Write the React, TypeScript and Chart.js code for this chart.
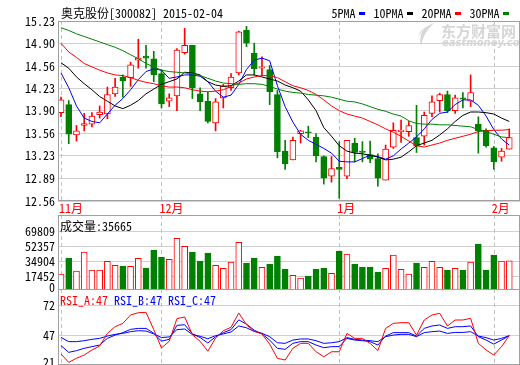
import { useEffect, useRef } from 'react';
import { Chart, registerables } from 'chart.js';

Chart.register(...registerables);

const FONT = '"Noto Sans Mono CJK SC", "Noto Sans Mono CJK JP", "DejaVu Sans Mono", monospace';
const RED = '#ff0000';
const GREEN = '#008000';
const BLUE = '#0000ff';
const BLACK = '#000000';
const GRID = '#d0d0d0';
const FRAME = '#a0a0a0';
const DASH = '#c0c0c0';
const W = 520;
const H = 365;
const X_MIN = -0.39;
const X_MAX = 59.39;

const title = '奥克股份[300082] 2015-02-04';
const monthIdx = [0, 13, 36, 56];
const monthLabels = ['11月', '12月', '1月', '2月'];

const opens = [13.87, 13.99, 13.54, 13.68, 13.70, 13.84, 13.85, 14.15, 14.40, 14.39, 14.65, 14.71, 14.67, 14.45, 14.04, 14.12, 14.76, 14.87, 14.15, 14.04, 13.72, 14.09, 14.24, 14.46, 15.09, 14.75, 14.53, 14.51, 14.14, 13.30, 13.17, 13.56, 13.58, 13.51, 13.22, 12.93, 13.06, 12.93, 13.42, 13.30, 13.25, 13.19, 12.87, 13.36, 13.59, 13.59, 13.50, 13.52, 13.86, 14.05, 14.14, 13.90, 14.09, 14.04, 13.70, 13.61, 13.35, 13.21, 13.33];
const highs = [14.10, 14.05, 13.68, 13.86, 13.87, 13.97, 14.25, 14.38, 14.43, 14.62, 14.96, 14.87, 14.78, 14.51, 14.15, 14.82, 15.12, 14.87, 14.24, 14.18, 14.08, 14.29, 14.45, 15.08, 15.15, 14.90, 14.70, 14.57, 14.20, 13.46, 13.51, 13.61, 13.67, 13.56, 13.23, 13.22, 13.44, 13.46, 13.49, 13.44, 13.45, 13.26, 13.39, 13.72, 13.76, 13.74, 13.98, 13.88, 14.12, 14.16, 14.19, 14.13, 14.17, 14.43, 13.81, 13.63, 13.37, 13.34, 13.63];
const lows = [13.81, 13.41, 13.45, 13.60, 13.66, 13.79, 13.78, 14.11, 14.10, 14.26, 14.53, 14.53, 14.33, 13.94, 13.96, 13.90, 14.74, 14.08, 13.90, 13.72, 13.60, 13.94, 14.20, 14.43, 14.85, 14.43, 14.42, 13.99, 13.20, 13.03, 13.17, 13.42, 13.50, 13.14, 12.81, 12.84, 12.60, 12.89, 13.14, 13.14, 13.13, 12.78, 12.87, 13.34, 13.43, 13.52, 13.28, 13.39, 13.81, 13.88, 13.87, 13.86, 13.94, 13.96, 13.27, 13.36, 13.03, 13.15, 13.33];
const closes = [14.06, 13.55, 13.60, 13.71, 13.82, 13.88, 14.14, 14.25, 14.34, 14.58, 14.68, 14.68, 14.43, 14.00, 14.09, 14.80, 14.87, 14.24, 14.03, 13.74, 14.03, 14.27, 14.40, 15.07, 14.90, 14.52, 14.55, 14.18, 13.29, 13.11, 13.46, 13.60, 13.57, 13.23, 12.90, 13.04, 13.03, 13.46, 13.28, 13.28, 13.18, 12.90, 13.33, 13.61, 13.61, 13.68, 13.38, 13.83, 14.03, 14.14, 13.90, 14.09, 14.07, 14.17, 13.60, 13.38, 13.14, 13.30, 13.50];

const ma5 = [14.46, 14.24, 13.97, 13.79, 13.74, 13.72, 13.85, 13.98, 14.08, 14.21, 14.36, 14.48, 14.52, 14.50, 14.38, 14.40, 14.43, 14.43, 14.41, 14.33, 14.19, 14.10, 14.13, 14.29, 14.51, 14.65, 14.68, 14.64, 14.27, 13.96, 13.73, 13.55, 13.46, 13.40, 13.34, 13.27, 13.15, 13.14, 13.14, 13.19, 13.24, 13.22, 13.18, 13.23, 13.33, 13.42, 13.51, 13.63, 13.77, 13.86, 13.88, 13.99, 14.06, 14.06, 13.98, 13.82, 13.62, 13.48, 13.39];
const ma10 = [14.61, 14.53, 14.40, 14.30, 14.21, 14.11, 14.04, 13.97, 13.93, 13.98, 14.05, 14.15, 14.22, 14.29, 14.33, 14.37, 14.47, 14.46, 14.43, 14.33, 14.28, 14.26, 14.27, 14.34, 14.43, 14.43, 14.40, 14.37, 14.34, 14.28, 14.24, 14.19, 14.06, 13.90, 13.65, 13.52, 13.38, 13.30, 13.27, 13.26, 13.24, 13.21, 13.17, 13.18, 13.21, 13.29, 13.38, 13.42, 13.46, 13.54, 13.63, 13.74, 13.83, 13.88, 13.88, 13.87, 13.85, 13.79, 13.74];
const ma20 = [14.90, 14.77, 14.69, 14.60, 14.55, 14.50, 14.46, 14.43, 14.42, 14.39, 14.35, 14.32, 14.30, 14.27, 14.25, 14.25, 14.24, 14.21, 14.19, 14.18, 14.19, 14.21, 14.26, 14.31, 14.37, 14.40, 14.42, 14.42, 14.39, 14.33, 14.27, 14.24, 14.20, 14.14, 14.06, 13.97, 13.90, 13.85, 13.82, 13.79, 13.74, 13.69, 13.63, 13.58, 13.52, 13.45, 13.38, 13.36, 13.39, 13.42, 13.46, 13.49, 13.52, 13.55, 13.59, 13.60, 13.61, 13.61, 13.62];
const ma30 = [15.13, 15.09, 15.04, 15.00, 14.96, 14.92, 14.88, 14.84, 14.79, 14.73, 14.67, 14.60, 14.55, 14.50, 14.48, 14.47, 14.46, 14.45, 14.42, 14.38, 14.34, 14.31, 14.30, 14.29, 14.30, 14.30, 14.29, 14.26, 14.22, 14.19, 14.17, 14.16, 14.14, 14.13, 14.12, 14.10, 14.07, 14.04, 14.03, 14.00, 13.96, 13.92, 13.89, 13.85, 13.82, 13.75, 13.71, 13.70, 13.70, 13.69, 13.69, 13.68, 13.67, 13.66, 13.62, 13.59, 13.55, 13.51, 13.50];

const volumes = [20200, 38950, 23700, 46000, 24900, 24900, 35050, 30360, 29580, 29190, 38560, 27230, 48330, 40120, 37390, 62000, 52630, 45990, 35440, 44810, 30360, 26840, 34260, 57320, 33090, 38950, 28010, 31920, 41300, 26060, 18640, 15510, 17850, 26060, 27230, 20980, 47160, 43640, 31920, 28400, 28400, 22540, 26840, 42470, 25670, 20200, 33090, 28010, 35050, 28010, 24900, 26840, 24900, 34260, 55360, 24900, 42470, 35300, 35665];

const rsiA = [31.9, 25.1, 28.4, 31.1, 35.2, 38.5, 48.9, 54.4, 57.1, 64.0, 65.9, 66.2, 52.0, 36.9, 42.4, 61.0, 62.4, 47.8, 42.4, 34.2, 45.1, 51.1, 53.9, 65.7, 56.0, 50.6, 48.5, 40.0, 28.4, 27.0, 36.6, 40.7, 40.7, 33.8, 29.7, 33.8, 33.8, 48.9, 44.8, 44.8, 40.7, 34.7, 53.0, 57.1, 57.7, 57.7, 47.5, 59.9, 64.0, 65.4, 55.0, 59.9, 59.9, 61.3, 40.7, 35.2, 31.1, 38.0, 47];
const rsiB = [38.8, 33.3, 34.7, 36.6, 38.0, 39.3, 44.8, 47.5, 49.5, 52.2, 53.0, 53.0, 49.0, 42.5, 44.0, 55.5, 56.0, 48.5, 45.5, 41.0, 46.0, 49.5, 52.0, 60.0, 56.5, 51.5, 48.5, 43.4, 36.6, 35.8, 40.7, 42.1, 42.1, 39.3, 37.1, 38.0, 38.0, 44.8, 43.4, 42.9, 42.1, 39.3, 46.7, 49.5, 49.5, 49.5, 46.7, 53.0, 55.0, 55.8, 53.0, 54.4, 54.4, 55.0, 46.2, 43.4, 40.1, 43.4, 47];
const rsiC = [45.6, 42.1, 42.1, 42.9, 44.0, 44.8, 46.7, 48.1, 48.9, 50.3, 51.1, 50.8, 48.5, 45.5, 46.0, 52.0, 52.5, 48.0, 46.5, 44.5, 47.0, 48.5, 50.0, 55.0, 53.5, 50.5, 49.0, 46.2, 41.2, 40.7, 43.4, 44.3, 44.3, 42.9, 40.7, 41.2, 42.1, 45.4, 44.0, 43.4, 42.9, 42.1, 46.2, 47.5, 48.1, 48.1, 46.2, 49.5, 50.3, 50.8, 48.9, 49.7, 49.7, 50.3, 46.7, 45.4, 43.4, 44.8, 47];

const maNames = ['5PMA', '10PMA', '20PMA', '30PMA'];
const maColors = [BLUE, BLACK, RED, GREEN];
const priceTicks = [15.23, 14.90, 14.56, 14.23, 13.90, 13.56, 13.23, 12.89, 12.56];
const priceTickLabels = ['15.23', '14.90', '14.56', '14.23', '13.90', '13.56', '13.23', '12.89', '12.56'];
const volTicks = [69809, 52357, 34904, 17452, 0];
const volTickLabels = ['69809', '52357', '34904', '17452', '0'];
const rsiTicks = [72, 47, 21];
const rsiTickLabels = ['72', '47', '21'];
const rsiNames = ['RSI_A', 'RSI_B', 'RSI_C'];
const rsiColors = [RED, BLUE, BLUE];

const idx = closes.map((_, i) => i);
const isUp = idx.map((i) => closes[i] >= opens[i]);
const upDownFill = idx.map((i) => (isUp[i] ? '#ffffff' : GREEN));
const upDownLine = idx.map((i) => (isUp[i] ? RED : GREEN));

function pts(arr: number[]) {
  return arr.map((y, i) => ({ x: i, y }));
}

const frameMonths = {
  id: 'frameMonths',
  beforeDatasetsDraw(chart: any) {
    const { ctx, chartArea: a } = chart;
    const x = chart.scales.x;
    ctx.save();
    ctx.strokeStyle = DASH;
    ctx.lineWidth = 1;
    ctx.setLineDash([4, 3]);
    monthIdx.forEach((m) => {
      const px = Math.round(x.getPixelForValue(m)) + 0.5;
      ctx.beginPath();
      ctx.moveTo(px, a.top);
      ctx.lineTo(px, a.bottom);
      ctx.stroke();
    });
    ctx.restore();
  },
  afterDraw(chart: any) {
    const { ctx, chartArea: a } = chart;
    ctx.save();
    ctx.strokeStyle = FRAME;
    ctx.lineWidth = 1;
    ctx.strokeRect(
      Math.round(a.left) + 0.5,
      Math.round(a.top) + 0.5,
      Math.round(a.right - a.left) - 1,
      Math.round(a.bottom - a.top) - 1
    );
    ctx.restore();
  },
};

function yLabels(id: string, values: number[], labels: string[]) {
  return {
    id,
    afterDraw(chart: any) {
      const s = chart.scales.y;
      const ctx = chart.ctx;
      ctx.save();
      ctx.font = `12px ${FONT}`;
      ctx.fillStyle = BLACK;
      ctx.textAlign = 'right';
      ctx.textBaseline = 'middle';
      values.forEach((v, i) => {
        let y = s.getPixelForValue(v);
        if (v < s.min) y = s.bottom - 3;
        if (v > s.max) y = s.top + 3;
        ctx.fillText(labels[i], s.right - 3, y);
      });
      ctx.restore();
    },
  };
}

const mainText = {
  id: 'mainText',
  beforeDatasetsDraw(chart: any) {
    const ctx = chart.ctx;
    ctx.save();
    ctx.fillStyle = '#d6d6d6';
    ctx.beginPath();
    ctx.moveTo(434, 23);
    ctx.quadraticCurveTo(417, 29, 421, 46);
    ctx.quadraticCurveTo(423, 33, 434, 23);
    ctx.fill();
    ctx.beginPath();
    ctx.moveTo(428, 26);
    ctx.quadraticCurveTo(419, 30, 418, 38);
    ctx.quadraticCurveTo(421, 31, 428, 26);
    ctx.fill();
    ctx.font = 'bold 15px "Noto Sans CJK SC"';
    ctx.textBaseline = 'middle';
    ctx.textAlign = 'left';
    ctx.fillText('东方财富网', 441, 31);
    ctx.font = 'italic bold 10px "DejaVu Sans"';
    ctx.fillText('eastmoney.com', 442, 43.5);
    ctx.restore();
  },
  afterDraw(chart: any) {
    const ctx = chart.ctx;
    ctx.save();
    ctx.font = `12px ${FONT}`;
    ctx.textBaseline = 'middle';
    ctx.textAlign = 'left';
    ctx.fillStyle = BLACK;
    ctx.fillText(title, 61, 13.5);
    let lx = 331.5;
    maNames.forEach((n, k) => {
      ctx.fillStyle = BLACK;
      ctx.fillText(n, lx, 13.5);
      lx += ctx.measureText(n).width + 3;
      ctx.fillStyle = maColors[k];
      ctx.fillRect(Math.round(lx), 12, 6, 3);
      lx += 15;
    });
    ctx.restore();
  },
};

const volText = {
  id: 'volText',
  afterDraw(chart: any) {
    const ctx = chart.ctx;
    ctx.save();
    ctx.font = `12px ${FONT}`;
    ctx.textBaseline = 'middle';
    ctx.textAlign = 'left';
    ctx.fillStyle = BLACK;
    ctx.fillText(`成交量:${volumes[volumes.length - 1]}`, 60, 226.5);
    ctx.restore();
  },
};

const rsiText = {
  id: 'rsiText',
  afterDraw(chart: any) {
    const ctx = chart.ctx;
    ctx.save();
    ctx.font = `12px ${FONT}`;
    ctx.textBaseline = 'middle';
    ctx.textAlign = 'left';
    const last = [rsiA, rsiB, rsiC].map((a) => Math.round(a[a.length - 1]));
    const xs = [60, 114, 168];
    rsiNames.forEach((n, k) => {
      ctx.fillStyle = rsiColors[k];
      ctx.fillText(`${n}:${last[k]}`, xs[k], 300.5);
    });
    ctx.restore();
  },
};

function baseOptions(padTop: number, padBottom: number) {
  return {
    responsive: false,
    animation: false as const,
    devicePixelRatio: 1,
    events: [],
    layout: { padding: { top: padTop, bottom: padBottom, left: 0, right: 0 } },
    plugins: { legend: { display: false }, tooltip: { enabled: false }, title: { display: false } },
  };
}

function hiddenX() {
  return {
    type: 'linear',
    min: X_MIN,
    max: X_MAX,
    offset: false,
    display: true,
    ticks: { display: false },
    grid: { display: false, drawTicks: false, offset: false },
    border: { display: false },
    afterFit: (s: any) => {
      s.height = 0;
    },
  };
}

function yAxis(min: number, max: number, ticks: number[]) {
  return {
    type: 'linear',
    min,
    max,
    ticks: { display: false },
    grid: { color: GRID, drawTicks: false },
    border: { display: false },
    afterBuildTicks: (s: any) => {
      s.ticks = ticks.filter((v) => v >= min && v <= max).map((v) => ({ value: v }));
    },
    afterFit: (s: any) => {
      s.width = 58;
    },
  };
}

function lineDs(arr: number[], color: string, order: number) {
  return {
    type: 'line',
    data: pts(arr),
    borderColor: color,
    borderWidth: 1,
    pointRadius: 0,
    fill: false,
    tension: 0,
    order,
  };
}

export default function App() {
  const r1 = useRef<HTMLCanvasElement>(null);
  const r2 = useRef<HTMLCanvasElement>(null);
  const r3 = useRef<HTMLCanvasElement>(null);

  useEffect(() => {
    Chart.defaults.font.family = FONT;
    Chart.defaults.font.size = 12;

    const main = new Chart(r1.current as any, {
      type: 'bar',
      data: {
        datasets: [
          lineDs(ma30, GREEN, 1),
          lineDs(ma20, RED, 1),
          lineDs(ma10, BLACK, 1),
          lineDs(ma5, BLUE, 1),
          {
            type: 'bar',
            data: idx.map((i) => ({ x: i, y: [opens[i], closes[i]] })),
            backgroundColor: upDownFill,
            borderColor: upDownLine,
            borderWidth: 1,
            borderSkipped: false,
            barThickness: 6,
            minBarLength: 1,
            grouped: false,
            order: 5,
          },
          {
            type: 'bar',
            data: idx.map((i) => ({ x: i, y: [lows[i], highs[i]] })),
            backgroundColor: upDownLine,
            borderWidth: 0,
            barThickness: 1,
            grouped: false,
            order: 6,
          },
        ] as any,
      },
      options: {
        ...baseOptions(21, 150),
        scales: {
          x: {
            type: 'linear',
            min: X_MIN,
            max: X_MAX,
            offset: false,
            position: 'bottom',
            grid: { display: false, drawTicks: false, offset: false },
            border: { display: false },
            afterBuildTicks: (s: any) => {
              s.ticks = monthIdx.map((v) => ({ value: v }));
            },
            ticks: {
              autoSkip: false,
              maxRotation: 0,
              minRotation: 0,
              align: 'start',
              labelOffset: -2,
              padding: 0,
              color: RED,
              font: { family: FONT, size: 12 },
              callback: (_v: any, i: number) => monthLabels[i],
            },
            afterFit: (s: any) => {
              s.height = 14;
            },
          },
          y: yAxis(12.56, 15.23, priceTicks),
        },
      } as any,
      plugins: [frameMonths, mainText, yLabels('priceLabels', priceTicks, priceTickLabels)],
    });

    const vol = new Chart(r2.current as any, {
      type: 'bar',
      data: {
        datasets: [
          {
            type: 'bar',
            data: idx.map((i) => ({ x: i, y: volumes[i] })),
            backgroundColor: upDownFill,
            borderColor: upDownLine,
            borderWidth: 1,
            borderSkipped: false,
            barThickness: 6,
            grouped: false,
          },
        ] as any,
      },
      options: {
        ...baseOptions(215, 75),
        scales: {
          x: hiddenX(),
          y: yAxis(1371, 89413, volTicks),
        },
      } as any,
      plugins: [frameMonths, volText, yLabels('volLabels', volTicks, volTickLabels)],
    });

    const rsi = new Chart(r3.current as any, {
      type: 'line',
      data: {
        datasets: [lineDs(rsiC, BLUE, 3), lineDs(rsiB, BLUE, 2), lineDs(rsiA, RED, 1)] as any,
      },
      options: {
        ...baseOptions(289, 0),
        scales: {
          x: hiddenX(),
          y: yAxis(22.9, 85.4, rsiTicks),
        },
      } as any,
      plugins: [frameMonths, rsiText, yLabels('rsiLabels', rsiTicks, rsiTickLabels)],
    });

    return () => {
      main.destroy();
      vol.destroy();
      rsi.destroy();
    };
  }, []);

  const cs: any = { position: 'absolute', left: 0, top: 0, width: W, height: H };
  return (
    <div style={{ position: 'absolute', left: 0, top: 0, width: W, height: H, background: '#ffffff', overflow: 'hidden' }}>
      <canvas ref={r1} width={W} height={H} style={cs} />
      <canvas ref={r2} width={W} height={H} style={cs} />
      <canvas ref={r3} width={W} height={H} style={cs} />
    </div>
  );
}
